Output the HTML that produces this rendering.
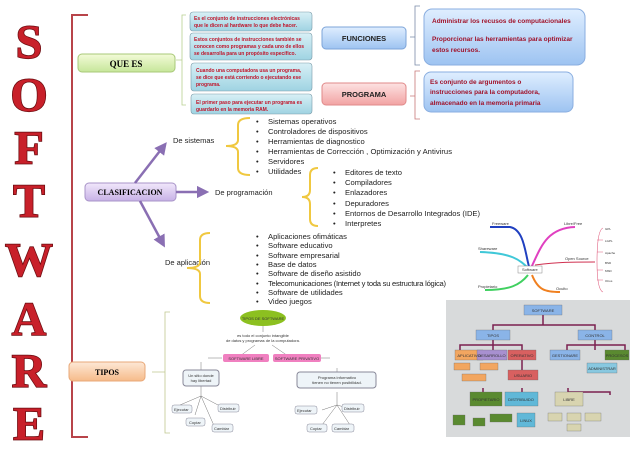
<!DOCTYPE html>
<html><head><meta charset="utf-8"><style>
body{margin:0;background:#fff;width:638px;height:451px;overflow:hidden}
svg{display:block}
text{font-family:"Liberation Sans",sans-serif}
text.L{font-family:"Liberation Serif",serif !important;font-weight:bold;font-size:48px;fill:#c8202a;stroke:#6a0c10;stroke-width:1.5;paint-order:stroke}
.b{font-size:7.6px;fill:#222}
.r{font-size:5px;fill:#c0152a;font-weight:bold}
.m{font-size:6.5px;fill:#a0122a;font-weight:bold}
.s{font-size:4px;fill:#333}
</style></head><body>
<svg width="638" height="451" viewBox="0 0 638 451">
<defs>
<linearGradient id="g" x1="0" y1="0" x2="0" y2="1"><stop offset="0" stop-color="#f3fbd8"/><stop offset="1" stop-color="#c6e69a"/></linearGradient>
<linearGradient id="p" x1="0" y1="0" x2="0" y2="1"><stop offset="0" stop-color="#f1e7fb"/><stop offset="1" stop-color="#c7b1e6"/></linearGradient>
<linearGradient id="o" x1="0" y1="0" x2="0" y2="1"><stop offset="0" stop-color="#fde8d6"/><stop offset="1" stop-color="#f6bb8a"/></linearGradient>
<linearGradient id="bl" x1="0" y1="0" x2="0" y2="1"><stop offset="0" stop-color="#dfeeff"/><stop offset="1" stop-color="#9dc3f1"/></linearGradient>
<linearGradient id="pk" x1="0" y1="0" x2="0" y2="1"><stop offset="0" stop-color="#fde2e2"/><stop offset="1" stop-color="#f2a3a3"/></linearGradient>
<linearGradient id="t" x1="0" y1="0" x2="0" y2="1"><stop offset="0" stop-color="#d8f0f6"/><stop offset="1" stop-color="#9fd3e2"/></linearGradient>
<marker id="a" markerWidth="5" markerHeight="5" refX="2.5" refY="2.5" orient="auto"><path d="M0,0L5,2.5L0,5z" fill="#8a6fb3"/></marker>
</defs>
<!-- letters -->
<g text-anchor="middle">
<text class="L" font-family="Liberation Serif" x="29" y="58">S</text><text class="L" font-family="Liberation Serif" x="29" y="111">O</text><text class="L" font-family="Liberation Serif" x="29" y="164">F</text><text class="L" font-family="Liberation Serif" x="29" y="217">T</text>
<text class="L" font-family="Liberation Serif" x="29" y="276">W</text><text class="L" font-family="Liberation Serif" x="29" y="335">A</text><text class="L" font-family="Liberation Serif" x="29" y="387">R</text><text class="L" font-family="Liberation Serif" x="29" y="440">E</text>
</g>
<!-- red main bracket -->
<path d="M88,15H72V437H88" fill="none" stroke="#b8444a" stroke-width="2"/>
<!-- left boxes -->
<rect x="78" y="54" width="97" height="18" rx="4" fill="url(#g)" stroke="#a8c878"/>
<text x="126" y="67" text-anchor="middle" style="font-family:'Liberation Serif';font-weight:bold;font-size:9px">QUE ES</text>
<rect x="85" y="183" width="91" height="18" rx="4" fill="url(#p)" stroke="#a894c8"/>
<text x="130" y="195" text-anchor="middle" style="font-family:'Liberation Serif';font-weight:bold;font-size:8px">CLASIFICACION</text>
<rect x="69" y="362" width="76" height="19" rx="4" fill="url(#o)" stroke="#e8a878"/>
<text x="107" y="375" text-anchor="middle" style="font-family:'Liberation Serif';font-weight:bold;font-size:8px">TIPOS</text>
<path d="M186,15H182V105H186M182,60H176" fill="none" stroke="#b8d090" stroke-width="0.8"/>
<g stroke="#7a9aa8" stroke-width="0.6">
<rect x="190" y="12" width="122" height="19" rx="3" fill="url(#t)"/>
<rect x="190" y="33" width="122" height="27" rx="3" fill="url(#t)"/>
<rect x="191" y="63" width="121" height="28" rx="3" fill="url(#t)"/>
<rect x="191" y="94" width="121" height="20" rx="3" fill="url(#t)"/>
</g>
<text class="r" x="194" y="20">Es el conjunto de instrucciones electrónicas</text><text class="r" x="194" y="27">que le dicen al hardware lo que debe hacer.</text>
<text class="r" x="194" y="41">Estos conjuntos de instrucciones también se</text><text class="r" x="194" y="48">conocen como programas y cada uno de ellos</text><text class="r" x="194" y="55">se desarrolla para un propósito específico.</text>
<text class="r" x="196" y="72">Cuando una computadora usa un programa,</text><text class="r" x="196" y="79">se dice que está corriendo o ejecutando ese</text><text class="r" x="196" y="86">programa.</text>
<text class="r" x="196" y="104">El primer paso para ejecutar un programa es</text><text class="r" x="196" y="111">guardarlo en la memoria RAM.</text>
<rect x="322" y="27" width="84" height="22" rx="4" fill="url(#bl)" stroke="#7da4d8"/>
<text x="364" y="41" text-anchor="middle" font-weight="bold" font-size="7.5" fill="#222">FUNCIONES</text>
<rect x="322" y="83" width="84" height="22" rx="4" fill="url(#pk)" stroke="#e08a8a"/>
<text x="364" y="97" text-anchor="middle" font-weight="bold" font-size="7.5" fill="#222">PROGRAMA</text>
<path d="M420,6H415V65H420M415,37H410" fill="none" stroke="#7a8aa8" stroke-width="0.8"/>
<path d="M420,71H415V119H420M415,96H410" fill="none" stroke="#c87878" stroke-width="0.8"/>
<rect x="424" y="9" width="161" height="56" rx="8" fill="url(#bl)" stroke="#8aaee0"/>
<rect x="424" y="72" width="149" height="40" rx="7" fill="url(#bl)" stroke="#8aaee0"/>
<text class="m" x="432" y="23">Administrar los recusos de computacionales</text>
<text class="m" x="432" y="41">Proporcionar las herramientas para optimizar</text><text class="m" x="432" y="52">estos recursos.</text>
<text class="m" x="430" y="84">Es conjunto de argumentos o</text><text class="m" x="430" y="94">instrucciones para la computadora,</text><text class="m" x="430" y="105">almacenado en la memoria primaria</text>
<g stroke="#8a6fb3" stroke-width="2.5" fill="none" marker-end="url(#a)">
<path d="M135,183L163,147"/><path d="M176,192H203"/><path d="M140,201L162,242"/>
</g>
<text x="173" y="143" font-size="7.5" fill="#222">De sistemas</text>
<text x="215" y="195" font-size="7.5" fill="#222">De programación</text>
<text x="165" y="265" font-size="7.5" fill="#222">De aplicación</text>
<g fill="none" stroke="#f0c840" stroke-width="2">
<path d="M250,118Q238,118 238,125V140Q238,146 226,146Q238,146 238,152V168Q238,175 250,175"/>
<path d="M318,168Q310,168 310,175V190Q310,197 302,197Q310,197 310,204V219Q310,226 318,226"/>
<path d="M210,233Q200,233 200,240V262Q200,268 187,268Q200,268 200,274V296Q200,303 210,303"/>
</g>
<g class="b">
<text x="256" y="124">•</text><text x="268" y="124">Sistemas operativos</text>
<text x="256" y="134">•</text><text x="268" y="134">Controladores de dispositivos</text>
<text x="256" y="144">•</text><text x="268" y="144">Herramientas de diagnostico</text>
<text x="256" y="154">•</text><text x="268" y="154" textLength="184">Herramientas de Corrección , Optimización y Antivirus</text>
<text x="256" y="164">•</text><text x="268" y="164">Servidores</text>
<text x="256" y="174">•</text><text x="268" y="174">Utilidades</text>
<text x="333" y="175">•</text><text x="345" y="175">Editores de texto</text>
<text x="333" y="185">•</text><text x="345" y="185">Compiladores</text>
<text x="333" y="195">•</text><text x="345" y="195">Enlazadores</text>
<text x="333" y="206">•</text><text x="345" y="206">Depuradores</text>
<text x="333" y="216">•</text><text x="345" y="216" textLength="135">Entornos de Desarrollo Integrados (IDE)</text>
<text x="333" y="226">•</text><text x="345" y="226">Interpretes</text>
<text x="256" y="239">•</text><text x="268" y="239">Aplicaciones ofimáticas</text>
<text x="256" y="248">•</text><text x="268" y="248">Software educativo</text>
<text x="256" y="258">•</text><text x="268" y="258">Software empresarial</text>
<text x="256" y="267">•</text><text x="268" y="267">Base de datos</text>
<text x="256" y="276">•</text><text x="268" y="276">Software de diseño asistido</text>
<text x="256" y="286">•</text><text x="268" y="286" textLength="178">Telecomunicaciones (Internet y toda su estructura lógica)</text>
<text x="256" y="295">•</text><text x="268" y="295">Software de utilidades</text>
<text x="256" y="304">•</text><text x="268" y="304">Video juegos</text>
</g>
<!-- mind map -->
<g fill="none" stroke-width="2">
<path d="M530,270C525,255 525,230 510,227H490" stroke="#2040c0"/>
<path d="M530,270C540,250 545,228 575,227" stroke="#e040c0"/>
<path d="M528,268C520,260 512,253 480,252" stroke="#40c8d8"/>
<path d="M528,275C520,285 510,290 485,290" stroke="#40d060"/>
<path d="M532,275C538,290 545,292 560,292" stroke="#f08020"/>
<path d="M535,265C560,262 570,262 595,262" stroke="#d03050" stroke-width="1"/>
<path d="M597,262Q597,230 603,228M597,262Q597,290 603,292M597,240H603M597,252H603M597,270H603M597,280H603" stroke="#e06080" stroke-width="0.6"/>
</g>
<rect x="518" y="266" width="24" height="7" fill="#fff" stroke="#888" stroke-width="0.5"/>
<text class="s" x="522" y="271">Software</text>
<text class="s" x="492" y="225">Freeware</text><text class="s" x="564" y="225">Libre/Free</text>
<text class="s" x="478" y="250">Shareware</text><text class="s" x="565" y="260">Open Source</text>
<text class="s" x="478" y="288">Propietario</text><text class="s" x="556" y="290">Oculto</text>
<g class="s" style="font-size:3px"><text x="605" y="230">GPL</text><text x="605" y="242">LGPL</text><text x="605" y="254">Apache</text><text x="605" y="264">BSD</text><text x="605" y="272">MSD</text><text x="605" y="282">Otros</text></g>
<!-- tipos de software -->
<path d="M170,312H165V433H170M165,372H152" fill="none" stroke="#c0c890" stroke-width="0.8"/>
<ellipse cx="263" cy="318" rx="23" ry="8" fill="#8cc020"/>
<text class="s" x="263" y="320" text-anchor="middle">TIPOS DE SOFTWARE</text>
<text class="s" x="263" y="337" text-anchor="middle">es todo el conjunto intangible</text>
<text class="s" x="263" y="342" text-anchor="middle">de datos y programas de la computadora.</text>
<g stroke="#777" stroke-width="0.5" fill="none">
<path d="M263,326V332M255,345L240,356M272,345L288,356M208,358H222M321,358H330M201,362V370M201,386V396L180,405M201,396L195,415M201,396L218,405M201,396L215,428M337,368V375M337,392V405L322,410M337,405L322,425M337,405L350,425M337,405L355,410"/>
</g>
<rect x="223" y="354" width="46" height="8" rx="2" fill="#f080c0"/><text class="s" x="246" y="360" text-anchor="middle">SOFTWARE LIBRE</text>
<rect x="273" y="354" width="48" height="8" rx="2" fill="#f080c0"/><text class="s" x="297" y="360" text-anchor="middle">SOFTWARE PRIVATIVO</text>
<rect x="183" y="370" width="36" height="16" rx="3" fill="#eef4f8" stroke="#889"/><text class="s" x="201" y="377" text-anchor="middle">Un sitio donde</text><text class="s" x="201" y="382" text-anchor="middle">hay libertad</text>
<rect x="297" y="372" width="79" height="16" rx="3" fill="#eef4f8" stroke="#889"/><text class="s" x="337" y="379" text-anchor="middle">Programa informativo</text><text class="s" x="337" y="384" text-anchor="middle">tienen no tienen posibilidad.</text>
<g fill="#eef4f8" stroke="#889" stroke-width="0.5">
<rect x="172" y="405" width="20" height="8" rx="2"/><rect x="218" y="404" width="21" height="8" rx="2"/><rect x="186" y="418" width="19" height="8" rx="2"/><rect x="212" y="424" width="21" height="8" rx="2"/>
<rect x="295" y="406" width="22" height="8" rx="2"/><rect x="342" y="404" width="22" height="8" rx="2"/><rect x="307" y="424" width="20" height="8" rx="2"/><rect x="332" y="424" width="22" height="8" rx="2"/>
</g>
<g class="s"><text x="174" y="411">Ejecutar</text><text x="220" y="410">Distribuir</text><text x="189" y="424">Copiar</text><text x="214" y="430">Cambiar</text>
<text x="297" y="412">Ejecutar</text><text x="344" y="410">Distribuir</text><text x="310" y="430">Copiar</text><text x="334" y="430">Cambiar</text></g>
<!-- gray concept map -->
<rect x="446" y="300" width="184" height="137" fill="#d8dadb"/>
<g stroke="#7a2050" stroke-width="1.5" fill="none">
<path d="M543,315V325H493V330M543,325H595V330M493,340V350M493,345H460V350M493,345H522V350M595,340V350M595,345H567V350M595,345H625V350M522,360V370M483,388V392M568,388V392M568,392H610V395M522,388V392"/>
</g>
<g stroke="#666" stroke-width="0.3">
<rect x="524" y="305" width="38" height="10" fill="#8ab4e8"/>
<rect x="476" y="330" width="34" height="10" fill="#8ab4e8"/><rect x="578" y="330" width="34" height="10" fill="#8ab4e8"/>
<rect x="455" y="350" width="28" height="10" fill="#f2a660"/><rect x="477" y="350" width="30" height="10" fill="#a890d0"/><rect x="508" y="350" width="28" height="10" fill="#d86060"/>
<rect x="550" y="350" width="30" height="10" fill="#8ab4e8"/><rect x="605" y="350" width="24" height="10" fill="#5a8a30"/>
<rect x="454" y="363" width="16" height="7" fill="#f2a660"/><rect x="480" y="363" width="18" height="7" fill="#f2a660"/><rect x="462" y="374" width="24" height="7" fill="#f2a660"/>
<rect x="508" y="370" width="30" height="10" fill="#d86060"/><rect x="587" y="363" width="30" height="10" fill="#88c8e0"/>
<rect x="470" y="392" width="32" height="14" fill="#5a8a30"/><rect x="505" y="392" width="33" height="14" fill="#60b8d8"/><rect x="555" y="392" width="28" height="14" fill="#d8d4b0"/>
<rect x="517" y="413" width="18" height="14" fill="#60b8d8"/>
<rect x="453" y="415" width="12" height="10" fill="#5a8a30"/><rect x="473" y="418" width="12" height="8" fill="#5a8a30"/><rect x="490" y="414" width="22" height="8" fill="#5a8a30"/>
<rect x="548" y="413" width="14" height="8" fill="#d8d4b0"/><rect x="567" y="413" width="14" height="8" fill="#d8d4b0"/><rect x="585" y="413" width="16" height="8" fill="#d8d4b0"/><rect x="567" y="424" width="14" height="7" fill="#d8d4b0"/>
</g>
<g class="s" text-anchor="middle">
<text x="543" y="312">SOFTWARE</text><text x="493" y="337">TIPOS</text><text x="595" y="337">CONTROL</text>
<text x="469" y="357">APLICATIVO</text><text x="492" y="357">DESARROLLO</text><text x="522" y="357">OPERATIVO</text><text x="565" y="357">GESTIONARE</text><text x="617" y="357">PROCESOS</text>
<text x="523" y="377">USUARIO</text><text x="602" y="370">ADMINISTRAR</text><text x="486" y="401">PROPIETARIO</text><text x="521" y="401">DISTRIBUIDO</text><text x="569" y="401">LIBRE</text><text x="526" y="422">LINUX</text>
</g>
</svg>
</body></html>
